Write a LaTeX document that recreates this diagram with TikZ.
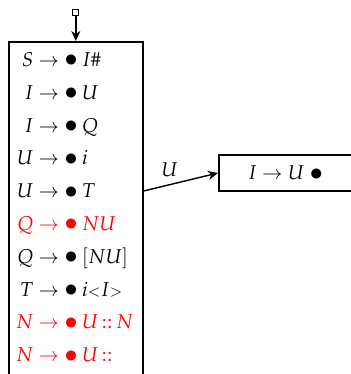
\documentclass[tikz,border=0pt]{standalone}
\usepackage{mathpazo}
\usepackage{graphicx}
\usetikzlibrary{arrows.meta,positioning}
\DeclareSymbolFont{cmsymbols}{OMS}{cmsy}{m}{n}
\DeclareMathSymbol{\cmto}{\mathrel}{cmsymbols}{"21}
\DeclareMathSymbol{\cmbul}{\mathord}{cmsymbols}{"0F}
\newcommand{\cmdot}{\raisebox{-0.2pt}{\scalebox{1.3}{$\cmbul$}}}
\tikzset{
  state/.style = {draw, line width=0.8pt, inner sep=0pt},
  init/.style  = {draw, line width=0.6pt, minimum size=3pt, inner sep=0pt},
  item/.style  = {anchor=base west, inner sep=0pt},
  arr/.style   = {-{Stealth[length=5pt,width=4.5pt]}, line width=0.7pt}
}
\newcommand{\itm}[2]{\llap{$#1$}${}\cmto\mathord{\cmdot}\mkern4mu#2$}

\begin{document}
\begin{tikzpicture}[x=0.5pt, y=-0.5pt]
    \useasboundingbox (0,0) rectangle (351,374);
    \clip (0,0) rectangle (351,374);

    % States
    \node[state, anchor=north west, minimum width=67pt,
          minimum height=200pt] (s0) at (8,41) {};
    \node[state, anchor=west, minimum height=18pt, text width=60pt,
          inner xsep=14.5pt, align=left] (s1) at (218,173)
          {$I \cmto U\;\mathord{\cmdot}$};
    \node[init, above=12.5pt of s0.north] (start) {};

    % Items of s0
    \foreach \lhs/\rhs/\col [count=\i] in {S/I\#/black, I/U/black,
        I/Q/black, U/i/black, U/T/black, Q/NU/red, Q/{[NU]}/black,
        T/i{\scriptstyle<}I{\scriptstyle>}/black, N/U\,{::}\,N/red,
        N/U\,{::}/red}
      \node[item, text=\col] (r\i) at (33, 66.5+32.8*\i-32.8)
        {\itm{\lhs}{\rhs}};

    % Transitions
    \draw[arr] (start) -- (s0.north);
    \draw[arr] (s0.east |- r5) -- node[above, pos=0.35] {$U$} (s1.west);
\end{tikzpicture}
\end{document}
